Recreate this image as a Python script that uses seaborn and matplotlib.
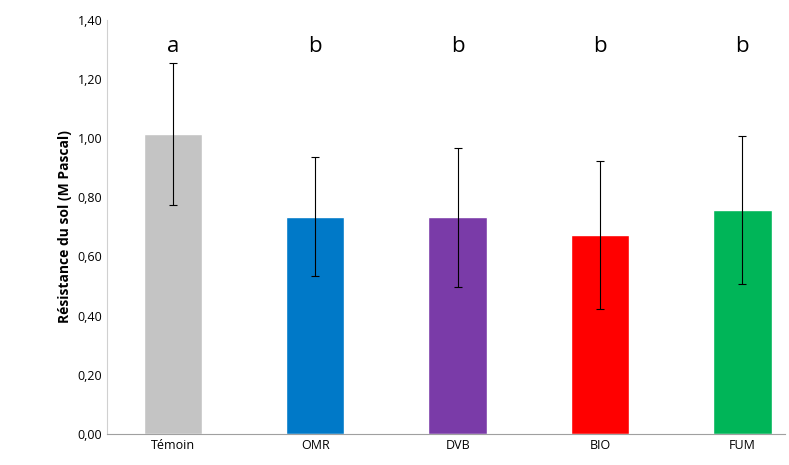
import matplotlib
matplotlib.use("Agg")
import matplotlib.pyplot as plt
import seaborn as sns
import pandas as pd

categories = ["Témoin", "OMR", "DVB", "BIO", "FUM"]
means = [1.015, 0.735, 0.733, 0.673, 0.758]
errors = [0.24, 0.20, 0.235, 0.25, 0.25]
letters = ["a", "b", "b", "b", "b"]
colors = ["#C4C4C4", "#0079C8", "#7A3BA8", "#FF0000", "#00B558"]

sns.set_style("white")
plt.rcParams["font.family"] = ["Open Sans", "DejaVu Sans"]
plt.rcParams["text.color"] = "black"
plt.rcParams["xtick.color"] = "black"
plt.rcParams["ytick.color"] = "black"
plt.rcParams["axes.labelcolor"] = "black"

df = pd.DataFrame({"cat": categories, "val": means})

fig = plt.figure(figsize=(7.89, 4.65), dpi=100)
ax = fig.add_axes([0.136, 0.067, 0.859, 0.89])
sns.barplot(data=df, x="cat", y="val", hue="cat", palette=colors, saturation=1,
            width=0.41, legend=False, ax=ax, errorbar=None)
ax.errorbar(range(len(categories)), means, yerr=errors, fmt="none",
            ecolor="black", elinewidth=0.8, capsize=3, capthick=0.8)
for i, t in enumerate(letters):
    ax.text(i, 1.31, t, ha="center", va="center", fontsize=16)

ax.set_ylim(0, 1.4)
ax.set_xlim(-0.46, 4.30)
ax.set_yticks([i * 0.2 for i in range(8)])
ax.set_yticklabels([f"{i * 0.2:.2f}".replace(".", ",") for i in range(8)], fontsize=9)
ax.tick_params(axis="x", labelsize=9, length=0)
ax.tick_params(axis="y", length=0)
ax.set_xlabel("")
ax.set_ylabel("Résistance du sol (M Pascal)", fontsize=10, fontweight="bold")
for s in ["top", "right"]:
    ax.spines[s].set_visible(False)
ax.spines["left"].set_color("#D0D0D0")
ax.spines["bottom"].set_color("#A0A0A0")

fig.savefig("out.png", dpi=100)
